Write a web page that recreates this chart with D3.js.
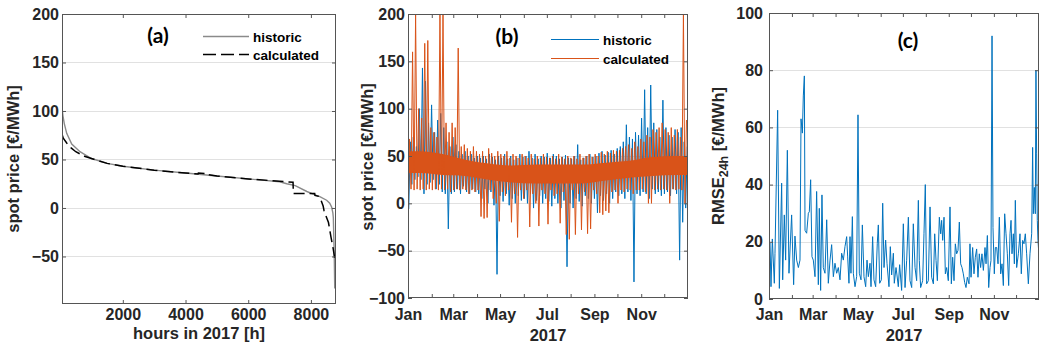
<!DOCTYPE html>
<html>
<head>
<meta charset="utf-8">
<title>spot price 2017</title>
<script src="https://cdn.jsdelivr.net/npm/d3@7/dist/d3.min.js"></script>
<style>
  body { margin: 0; background: #fff; }
  svg { display: block; font-family: "Liberation Sans", Arial, sans-serif; }
</style>
</head>
<body>
<div id="chart"></div>
<script>
var w = 1048;
var h = 358;

// (a) price duration curves (hours sorted by price)
var durHours      = [60, 90, 133, 210, 370, 634, 1000, 1500, 2000, 3000, 4000, 5000, 6000, 7000, 7230, 7500, 7870, 8130, 8300, 8500, 8600, 8660, 8700, 8715, 8730, 8745, 8760];
var durHistoric   = [104, 95, 87, 77, 66, 58, 51, 46, 43, 39, 36, 33, 30, 27, 25, 23, 17, 13.5, 11.5, 8, 5, 1, -5, -10, -30, -50, -83];
var calcHours     = [60, 100, 210, 350, 500, 800, 1000, 1500, 2000, 3000, 4000, 4400, 4410, 4680, 4690, 5000, 6000, 7000, 7430, 7440, 8120, 8130, 8250, 8300, 8390, 8420, 8560, 8640, 8710, 8760];
var durCalculated = [76, 72, 67, 62, 58, 53, 51, 46, 43, 39, 36, 35, 36, 35.5, 34.5, 33, 30, 27.5, 26.5, 15, 15, 13, 12, 10, 2, -3, -15, -30, -42, -52];
var hourTicks = [2000, 4000, 6000, 8000];
var priceTicksA = [-50, 0, 50, 100, 150, 200];

// (b) hourly prices, read as the low / high of each 4-day block (Jan .. Dec)
var histLow = [-6, 20, 25, 28, 25, 10, 20, 22,
               25, 15, 20, 12, 10, -27, 10,
               12, 15, 10, 18, 12, 10, 15, 12,
               10, 5, 15, 0, 12, -2, -75,
               8, 2, 10, -2, 5, 0, 8, 3,
               5, 0, 10, -5, 3, 8, 0, 5,
               2, -3, 5, 0, -5, 3, -67,
               0, -5, 5, 2, -3, 8, 5, 0,
               5, -10, 8, 3, 10, 0, 5, 12,
               8, 10, 5, 12, 3, -83, 10,
               8, 12, 10, 5, 15, 10, 12, 8,
               10, 12, 8, 15, 10, -60, -20, -5];
var histHigh = [65, 70, 60, 100, 143, 129, 85, 104,
                75, 88, 95, 80, 65, 60, 70,
                62, 55, 52, 55, 50, 52, 48, 50,
                48, 50, 47, 52, 49, 46, 50,
                48, 52, 47, 50, 46, 48, 52, 49,
                50, 55, 48, 52, 47, 50, 49, 53,
                48, 52, 50, 47, 49, 51, 48,
                47, 50, 62, 46, 48, 50, 52, 49,
                50, 53, 55, 51, 54, 56, 52, 58,
                60, 65, 83, 70, 68, 75, 72,
                90, 120, 80, 125, 85, 78, 70, 109,
                80, 72, 70, 78, 75, 80, 65, 60];
var calcLow = [-21, 15, 14, 15, 14, 15, 14, 15,
               14, 15, 14, 15, 14, 15, 12,
               14, 15, 14, 15, 14, 10, 14, 12,
               14, -14, -16, -15, 14, 5, 0,
               -19, 12, 8, 14, -20, 10, -36, 14,
               5, 14, -25, 10, 0, -24, 14, 10,
               -22, 14, 8, 10, -21, 12, -33,
               -38, 14, -33, 10, -28, 12, -32, -27,
               14, 10, -10, -12, -8, -10, 12, 14,
               0, 14, 12, 15, 14, 10, 14,
               14, 15, 12, 0, 0, 14, 15, 14,
               15, 14, 0, 15, 14, 15, 14, 0];
var calcHigh = [68, 160, 200, 100, 90, 169, 172, 80,
                75, 70, 200, 200, 85, 75, 85,
                80, 164, 60, 62, 58, 55, 60, 55,
                52, 55, 50, 58, 53, 50, 55,
                52, 50, 55, 48, 52, 50, 48, 52,
                50, 48, 52, 47, 50, 48, 52, 49,
                48, 50, 47, 52, 49, 47, 50,
                48, 50, 47, 52, 48, 50, 52, 49,
                52, 50, 54, 52, 55, 53, 56, 55,
                56, 58, 60, 62, 58, 65, 60,
                68, 65, 72, 70, 78, 75, 80, 85,
                78, 75, 80, 72, 78, 70, 200, 88];
// solid middle of the calculated band, per month
var calcCoreLow  = [32, 30, 29, 25, 22, 21, 21, 21, 24, 27, 29, 30];
var calcCoreHigh = [55, 52, 46, 42, 40, 41, 41, 41, 43, 45, 49, 50];
var priceTicksB = [-100, -50, 0, 50, 100, 150, 200];
var monthLabels = ["Jan", "", "Mar", "", "May", "", "Jul", "", "Sep", "", "Nov", ""];

// (c) daily RMSE (day of year, value)
var rmseDay = [0.5, 1.4, 2.7, 4.5, 7.2, 8.1, 11.7, 14, 17.1, 18.5, 20.7, 22.5, 24.8, 27, 30.6, 33.3, 35.1, 37.4, 39.7, 41.9,
               43.3, 45.1, 46.4, 47.8, 48.7, 50.9, 53.2, 54.5, 56.3, 58.1, 59.9, 62.2, 64.4, 66.7, 68, 69.8, 71.6, 73.4, 75.7, 78,
               80.2, 82.5, 84.7, 87, 89.2, 91.5, 93.7, 96, 98.2, 100.5, 102.7, 105, 106.3, 108.1, 109.5, 110.8, 112.7, 114, 116.3, 118.5,
               120.3, 122.1, 124.4, 126.2, 128.4, 130.7, 132.5, 134.3, 136.5, 137.9, 140.1, 141.9, 144.2, 146.4, 147.8, 149.6, 151.9, 153.7, 155.5, 157.7,
               159.5, 162.2, 164, 165.8, 168.1, 169.4, 171.7, 173, 174.8, 176.6, 179.3, 181.6, 183.9, 186.1, 188.4, 190.6, 192.9, 195.1, 197.4, 199.6,
               201.9, 203.2, 205, 207.7, 209.5, 211.3, 213.1, 215.4, 217.7, 219.9, 222.2, 224, 225.8, 227.6, 230.3, 232.1, 233.4, 234.8, 236.6, 238.4,
               240.2, 242.4, 244.7, 246.5, 248.3, 250.1, 251.9, 253.7, 255.5, 257.3, 259.1, 260.9, 262.7, 264.5, 266.3, 268.1, 270.4, 271.7, 273.1, 275.3,
               277.1, 278.9, 280.7, 282.5, 284.3, 286.1, 287.9, 289.8, 292, 293.4, 295.2, 297, 298.8, 300.1, 301.5, 302.8, 304.6, 306, 307.8, 309.6,
               311.4, 313.2, 315, 316.8, 318.6, 320.4, 322.2, 324, 325.8, 327.2, 328.5, 330.3, 331.7, 333, 334.8, 337.1, 339.3, 341.1, 342.9, 344.7,
               346.5, 348.3, 350.6, 352.8, 355.1, 356.4, 357.3, 358.7, 360, 360.9, 361.8, 362.7, 363.6, 364.5];
var rmseValue = [19, 19.5, 4.3, 21, 5.5, 16, 66, 3.7, 40.5, 6.7, 29.4, 13.6, 52, 9, 29.4, 5, 22, 13.6, 11, 13.6,
                 63, 58, 71, 78, 24, 23, 30, 30.5, 41.7, 14.8, 13.6, 7.8, 37.6, 5, 31.7, 3, 36.4, 11, 9, 27.7,
                 5.5, 13.6, 19, 7.8, 12.5, 9, 11, 6.7, 16, 13.6, 18.3, 21.8, 15, 5.5, 21.8, 9, 28.8, 9, 4.3, 7.8,
                 64.4, 9, 6.7, 25.9, 7.8, 4.3, 13.6, 7.8, 12.5, 4.3, 21.8, 6.7, 4.3, 19.5, 25.9, 5.5, 6.7, 33.5, 11, 20.6,
                 12.5, 4.3, 18.3, 8.4, 16, 5.5, 11, 8.4, 4.3, 12, 3, 26.3, 4, 13.5, 28.6, 6.4, 4, 26.3, 11, 6.4,
                 34.5, 13.5, 4, 6.4, 22.8, 40, 5.3, 6.4, 32.2, 7.6, 5.3, 22.8, 13.5, 6.4, 28.6, 22.8, 27.5, 20.5, 28.6, 8.8,
                 11, 6.4, 32.2, 5.3, 14.6, 6.4, 19.3, 15.8, 17, 26.9, 12.3, 11, 8.8, 5.8, 4, 7.6, 5.3, 19.3, 7.6, 18,
                 8.8, 14.6, 17.5, 7.6, 15.8, 11, 15.8, 10, 18, 12.3, 22.2, 4, 11, 13.5, 92, 25, 8.8, 18, 18, 12.3,
                 28.6, 8.8, 12.3, 4.7, 29.8, 22.8, 15.8, 4.7, 22.8, 27.5, 15.8, 22.8, 12.3, 34.5, 11, 15.8, 22.8, 8.8, 20.5, 19.3,
                 22.8, 15.8, 5.3, 15.8, 22.8, 53, 29.8, 39, 29.8, 80, 51, 27.5, 20.5, 17];
var rmseTicks = [0, 20, 40, 60, 80, 100];

var svg = d3.select("#chart")
            .append("svg")
            .attr("width", w)
            .attr("height", h);

var t0 = Date.UTC(2017, 0, 1);
var t1 = Date.UTC(2018, 0, 1);
function dayDate(d) { return new Date(t0 + d * 864e5); }
var monthStarts = d3.utcMonth.range(new Date(t0), new Date(t1));

var boxA = { left: 62, right: 336, top: 14, bottom: 304 };
var boxB = { left: 408, right: 688, top: 14, bottom: 298 };
var boxC = { left: 769, right: 1039, top: 13, bottom: 299 };

var xA = d3.scaleLinear().domain([60, 8800]).range([boxA.left, boxA.right]);
var yA = d3.scaleLinear().domain([-99, 200]).range([boxA.bottom, boxA.top]);
var xB = d3.scaleUtc().domain([new Date(t0), new Date(t1)]).range([boxB.left, boxB.right]);
var yB = d3.scaleLinear().domain([-100, 200]).range([boxB.bottom, boxB.top]);
var xC = d3.scaleUtc().domain([new Date(t0), new Date(t1)]).range([boxC.left, boxC.right]);
var yC = d3.scaleLinear().domain([0, 100]).range([boxC.bottom, boxC.top]);

function grid(box, y, ticks) {
    svg.append("g").selectAll("line")
        .data(ticks.filter(function(v) { var p = y(v); return p > box.top + 1 && p < box.bottom - 1; }))
        .enter()
        .append("line")
        .attr("x1", box.left)
        .attr("x2", box.right)
        .attr("y1", function(d) { return Math.round(y(d)) + 0.5; })
        .attr("y2", function(d) { return Math.round(y(d)) + 0.5; })
        .style("stroke", "#e1e1e1")
        .style("stroke-width", 1);
}

function clip(id, box) {
    svg.append("clipPath").attr("id", id)
       .append("rect")
       .attr("x", box.left).attr("y", box.top)
       .attr("width", box.right - box.left).attr("height", box.bottom - box.top);
}

function frame(box, x, y, xTicks, xFormat, yTicks, xPad, yPad) {
    var blank = function() { return ""; };
    var axes = [
        { axis: d3.axisBottom(x).tickValues(xTicks).tickFormat(xFormat).tickPadding(xPad), at: "translate(0," + box.bottom + ")" },
        { axis: d3.axisTop(x).tickValues(xTicks).tickFormat(blank), at: "translate(0," + box.top + ")" },
        { axis: d3.axisLeft(y).tickValues(yTicks).tickPadding(yPad), at: "translate(" + box.left + ",0)" },
        { axis: d3.axisRight(y).tickValues(yTicks).tickFormat(blank), at: "translate(" + box.right + ",0)" }
    ];
    axes.forEach(function(a) {
        var g = svg.append("g")
                   .attr("transform", a.at)
                   .call(a.axis.tickSizeInner(-4).tickSizeOuter(0));
        g.select(".domain").remove();
        g.attr("font-family", "'Liberation Sans', Arial, sans-serif")
         .attr("font-size", 16)
         .attr("font-weight", "bold")
         .attr("color", "#262626");
        g.selectAll(".tick line").style("stroke", "#555");
    });
    svg.append("rect")
       .attr("x", box.left + 0.5).attr("y", box.top + 0.5)
       .attr("width", box.right - box.left - 1).attr("height", box.bottom - box.top - 1)
       .style("fill", "none")
       .style("stroke", "#555")
       .style("stroke-width", 1);
}

function yLabel(x, y, text) {
    return svg.append("text")
              .attr("transform", "translate(" + x + "," + y + ") rotate(-90)")
              .attr("text-anchor", "middle")
              .attr("font-size", 16.5)
              .attr("font-weight", "bold")
              .attr("fill", "#262626")
              .text(text);
}

function xLabel(x, y, text) {
    svg.append("text")
       .attr("x", x).attr("y", y)
       .attr("text-anchor", "middle")
       .attr("font-size", 16.5)
       .attr("font-weight", "bold")
       .attr("fill", "#262626")
       .text(text);
}

function panelTag(x, y, text) {
    svg.append("text")
       .attr("x", x).attr("y", y)
       .attr("text-anchor", "middle")
       .attr("font-family", "Lato, 'Open Sans', sans-serif")
       .attr("font-size", 21)
       .attr("font-weight", "bold")
       .attr("fill", "#000")
       .text(text);
}

function legendRow(x1, x2, y, color, dash, width, text) {
    svg.append("line")
       .attr("x1", x1).attr("x2", x2)
       .attr("y1", y).attr("y2", y)
       .style("stroke", color)
       .style("stroke-width", width)
       .style("stroke-dasharray", dash);
    svg.append("text")
       .attr("x", x2 + 4).attr("y", y + 5)
       .attr("font-size", 13.5)
       .attr("font-weight", "bold")
       .attr("fill", "#000")
       .text(text);
}

// ---------- (a) ----------
grid(boxA, yA, priceTicksA);
clip("clipA", boxA);

var lineA = d3.line()
              .x(function(d) { return xA(d[0]); })
              .y(function(d) { return yA(d[1]); });

svg.append("path")
   .datum(durHours.map(function(v, i) { return [v, durHistoric[i]]; }))
   .attr("clip-path", "url(#clipA)")
   .attr("d", lineA)
   .style("fill", "none")
   .style("stroke", "#8a8a8a")
   .style("stroke-width", 1.4);

svg.append("path")
   .datum(calcHours.map(function(v, i) { return [v, durCalculated[i]]; }))
   .attr("clip-path", "url(#clipA)")
   .attr("d", lineA)
   .style("fill", "none")
   .style("stroke", "#000")
   .style("stroke-width", 1.5)
   .style("stroke-dasharray", "11,5");

frame(boxA, xA, yA, hourTicks, d3.format("d"), priceTicksA, 5, 3);
yLabel(19, 159, "spot price [€/MWh]");
xLabel(199, 339, "hours in 2017 [h]");
panelTag(158, 43, "(a)");
legendRow(203, 249, 36.5, "#8a8a8a", null, 1.4, "historic");
legendRow(203, 249, 54.5, "#000", "13,5", 1.5, "calculated");

// ---------- (b) ----------
grid(boxB, yB, priceTicksB);
clip("clipB", boxB);

var blockDays = 365 / histLow.length;
function blockPoints(low, high, shift) {
    var pts = [];
    low.forEach(function(v, k) {
        pts.push([(k + shift) * blockDays, v]);
        pts.push([(k + shift + 0.5) * blockDays, high[k]]);
    });
    return pts;
}

// month middles; the year ends hold the first / last month's band
function corePoints(low, high) {
    var pts = low.map(function(v, i) {
        var a = xB(monthStarts[i]);
        var b = xB(i < 11 ? monthStarts[i + 1] : new Date(t1));
        return [(a + b) / 2, v, high[i]];
    });
    pts.unshift([boxB.left, low[0], high[0]]);
    pts.push([boxB.right, low[11], high[11]]);
    return pts;
}

var lineB = d3.line()
              .x(function(d) { return xB(dayDate(d[0])); })
              .y(function(d) { return yB(d[1]); });

svg.append("path")
   .datum(blockPoints(histLow, histHigh, 0.25))
   .attr("clip-path", "url(#clipB)")
   .attr("d", lineB)
   .style("fill", "none")
   .style("stroke", "#0072BD")
   .style("stroke-width", 1)
   .style("stroke-linejoin", "round");

svg.append("path")
   .datum(corePoints(calcCoreLow, calcCoreHigh))
   .attr("clip-path", "url(#clipB)")
   .attr("d", d3.area()
                .curve(d3.curveMonotoneX)
                .x(function(d) { return d[0]; })
                .y0(function(d) { return yB(d[1]); })
                .y1(function(d) { return yB(d[2]); }))
   .style("fill", "#D95319")
   .style("stroke", "none");

svg.append("path")
   .datum(blockPoints(calcLow, calcHigh, 0))
   .attr("clip-path", "url(#clipB)")
   .attr("d", lineB)
   .style("fill", "none")
   .style("stroke", "#D95319")
   .style("stroke-width", 1)
   .style("stroke-linejoin", "round");

frame(boxB, xB, yB, monthStarts, function(d, i) { return monthLabels[i]; }, priceTicksB, 11, 3);
yLabel(373, 157, "spot price [€/MWh]");
xLabel(548, 341, "2017");
panelTag(507, 44, "(b)");
legendRow(551, 599, 39.5, "#0072BD", null, 1.2, "historic");
legendRow(551, 599, 58.5, "#D95319", null, 1.2, "calculated");

// ---------- (c) ----------
grid(boxC, yC, rmseTicks);
clip("clipC", boxC);

svg.append("path")
   .datum(rmseDay.map(function(v, i) { return [v, rmseValue[i]]; }))
   .attr("clip-path", "url(#clipC)")
   .attr("d", d3.line()
                .x(function(d) { return xC(dayDate(d[0])); })
                .y(function(d) { return yC(d[1]); }))
   .style("fill", "none")
   .style("stroke", "#0072BD")
   .style("stroke-width", 1);

frame(boxC, xC, yC, monthStarts, function(d, i) { return monthLabels[i]; }, rmseTicks, 10, 6);
var rmseLabel = yLabel(724, 156, "RMSE");
rmseLabel.append("tspan").attr("font-size", 12.5).attr("dy", 4).text("24h");
rmseLabel.append("tspan").attr("dy", -4).text(" [€/MWh]");
xLabel(904, 341, "2017");
panelTag(908, 48, "(c)");
</script>
</body>
</html>
